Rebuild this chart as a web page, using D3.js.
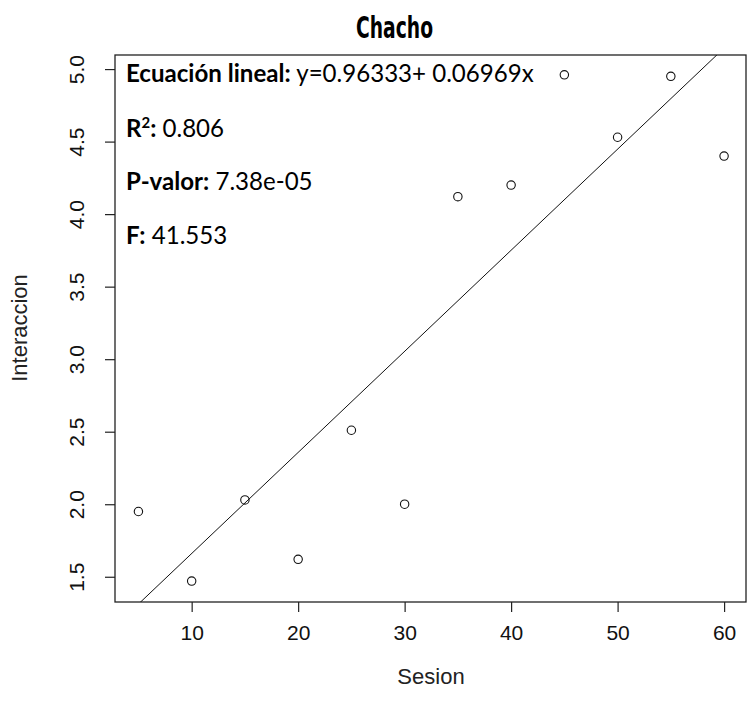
<!DOCTYPE html>
<html><head><meta charset="utf-8">
<script src="https://cdn.jsdelivr.net/npm/d3@7"></script>
<style>body{margin:0;background:#fff}svg{display:block}</style>
</head><body>
<script>
const sesion = [5,10,15,20,25,30,35,40,45,50,55,60];
const interaccion = [1.95,1.47,2.03,1.62,2.51,2.00,4.12,4.20,4.96,4.53,4.95,4.40];
const xTicks = [10,20,30,40,50,60];
const yTicks = [1.5,2.0,2.5,3.0,3.5,4.0,4.5,5.0];
const intercept = 0.96333, slope = 0.06969;
const title = "Chacho";
const annot = [
  {b:"Ecuación lineal:", t:" y=0.96333+ 0.06969x"},
  {b:"R", sup:"2", b2:":", t:" 0.806"},
  {b:"P-valor:", t:" 7.38e-05"},
  {b:"F:", t:" 41.553"}
];

const W=747,H=717;
const L=115,R=747.5,T=55,B=602;
const svg=d3.select("body").append("svg").attr("width",W).attr("height",H);

const x=d3.scaleLinear().domain([2.8,62.2]).range([L,R]);
const y=d3.scaleLinear().domain([1.326,5.097]).range([B,T]);

svg.append("defs").append("clipPath").attr("id","c").append("rect")
  .attr("x",L).attr("y",T).attr("width",R-L).attr("height",B-T);

const AX="Liberation Sans, Arial, sans-serif";
// axes
const xa=svg.append("g").attr("transform",`translate(0,${B})`)
  .call(d3.axisBottom(x).tickValues(xTicks).tickSize(10).tickPadding(13).tickFormat(d3.format("d")));
xa.select(".domain").remove();
const ya=svg.append("g").attr("transform",`translate(${L},0)`)
  .call(d3.axisLeft(y).tickValues(yTicks).tickSize(10).tickFormat(d3.format(".1f")));
ya.select(".domain").remove();
ya.selectAll(".tick text").each(function(){
  d3.select(this).attr("transform",`translate(-38,0) rotate(-90)`).attr("x",0).attr("y",0)
   .attr("dy","0.35em").attr("text-anchor","middle");
});
[xa,ya].forEach(g=>{
  g.selectAll("text").attr("font-family",AX).attr("font-size",21).attr("fill","#111");
  g.selectAll("line").attr("stroke","#222").attr("stroke-width",1.2);
});

// box
svg.append("rect").attr("x",L).attr("y",T).attr("width",746-L).attr("height",B-T)
  .attr("fill","none").attr("stroke","#222").attr("stroke-width",1.3);

// regression line
const xs=x.domain();
svg.append("line").attr("clip-path","url(#c)")
  .attr("x1",x(xs[0])).attr("y1",y(intercept+slope*xs[0]))
  .attr("x2",x(xs[1])).attr("y2",y(intercept+slope*xs[1]))
  .attr("stroke","#111").attr("stroke-width",1);

// points
svg.append("g").selectAll("circle").data(sesion.map((s,i)=>[s,interaccion[i]])).join("circle")
  .attr("cx",d=>x(d[0])).attr("cy",d=>y(d[1])).attr("r",4.2)
  .attr("fill","none").attr("stroke","#111").attr("stroke-width",1.1);

// axis titles
svg.append("text").attr("x",431).attr("y",684).attr("text-anchor","middle")
  .attr("font-family",AX).attr("font-size",22).attr("fill","#222").text("Sesion");
svg.append("text").attr("transform","translate(27,328) rotate(-90)").attr("text-anchor","middle")
  .attr("font-family",AX).attr("font-size",22).attr("fill","#222").text("Interaccion");

// title (condensed heavy face)
const tt=svg.append("text").attr("x",0).attr("y",0).attr("text-anchor","middle")
  .attr("font-family","DejaVu Sans Condensed, DejaVu Sans, sans-serif").attr("font-weight","bold")
  .attr("font-size",31).attr("fill","#000").text(title);
const tw=tt.node().getComputedTextLength();
tt.attr("transform",`translate(394.5,37.5) scale(${77/tw},1)`);

// annotations
const base=[82,137,190,244];
const anns=annot.map((a,i)=>{
  const t=svg.append("text").attr("x",126).attr("y",base[i])
    .attr("font-family","Lato, Carlito, sans-serif").attr("font-size",24).attr("fill","#000");
  t.append("tspan").attr("font-weight","bold").text(a.b);
  if(a.sup){ t.append("tspan").attr("font-weight","bold").attr("class","sup").attr("dy",-9).text(a.sup);
             t.append("tspan").attr("font-weight","bold").attr("dy",9).text(a.b2); }
  t.append("tspan").text(a.t);
  return t;
});
const w0=anns[0].node().getComputedTextLength();
const fs=24*408/w0;
anns.forEach(t=>t.attr("font-size",fs));
svg.selectAll("tspan.sup").attr("font-size",fs*0.62);
</script>
</body></html>
